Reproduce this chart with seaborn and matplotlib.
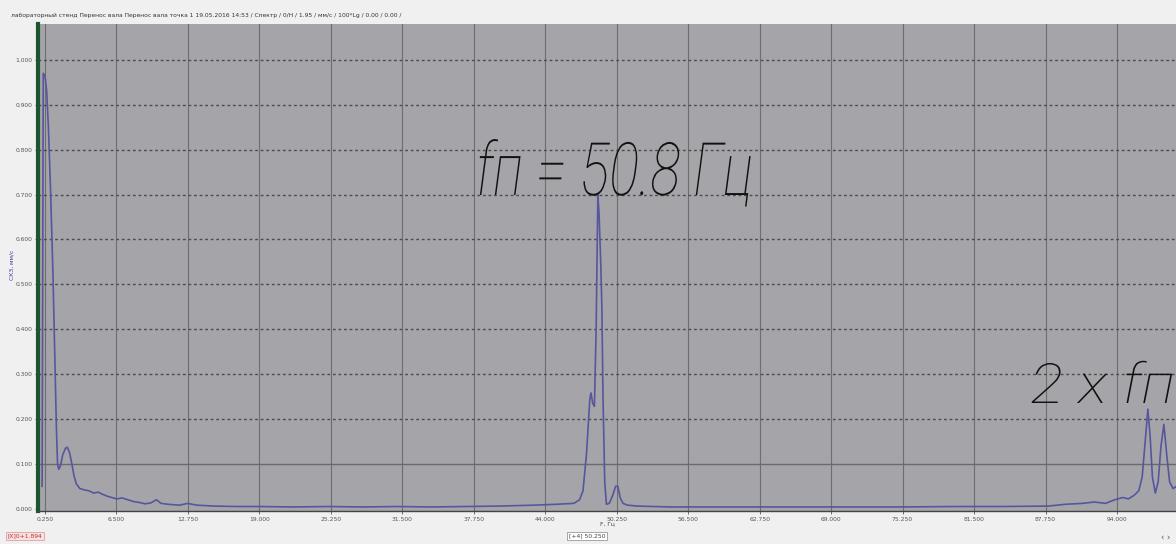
import numpy as np
import pandas as pd
import matplotlib
matplotlib.use("Agg")
import matplotlib.pyplot as plt
import seaborn as sns
from matplotlib.patheffects import AbstractPathEffect
from matplotlib.transforms import Affine2D

# ---------------- data ----------------
freq_hz = [0.0, 0.1, 0.25, 0.4, 0.55, 0.75, 0.95, 1.1, 1.25, 1.35, 1.45, 1.6, 1.8, 2.05,
           2.2, 2.4, 2.6, 2.8, 3.0, 3.3, 3.7, 4.1, 4.5, 4.9, 5.3, 5.7, 6.1, 6.5, 7.0,
           7.5, 8.0, 8.5, 9.0, 9.5, 10.0, 10.4, 11.0, 12.0, 12.75, 13.5, 15.0, 17.0,
           19.0, 22.0, 25.0, 28.0, 31.0, 34.0, 37.0, 40.0, 43.0, 45.0, 46.5, 47.0,
           47.3, 47.6, 47.9, 48.0, 48.15, 48.3, 48.45, 48.6, 48.7, 48.85, 48.95, 49.05,
           49.2, 49.35, 49.6, 49.9, 50.15, 50.35, 50.55, 50.8, 51.2, 52.0, 55.0, 60.0,
           65.0, 70.0, 75.0, 80.0, 84.0, 88.0, 89.5, 91.0, 92.0, 93.0, 93.8, 94.5,
           95.0, 95.5, 95.9, 96.2, 96.5, 96.7, 96.9, 97.1, 97.35, 97.6, 97.85, 98.1,
           98.35, 98.6, 98.9, 99.2]
amplitude = [0.05, 0.97, 0.965, 0.93, 0.85, 0.70, 0.52, 0.35, 0.18, 0.10, 0.088, 0.095,
             0.12, 0.135, 0.137, 0.125, 0.10, 0.072, 0.055, 0.045, 0.042, 0.040, 0.035,
             0.037, 0.032, 0.028, 0.025, 0.022, 0.024, 0.020, 0.016, 0.014, 0.011, 0.013,
             0.020, 0.012, 0.010, 0.008, 0.012, 0.008, 0.006, 0.005, 0.005, 0.004, 0.005,
             0.004, 0.005, 0.004, 0.005, 0.006, 0.008, 0.010, 0.012, 0.020, 0.040, 0.120,
             0.245, 0.258, 0.235, 0.228, 0.400, 0.700, 0.660, 0.550, 0.450, 0.250, 0.060,
             0.010, 0.012, 0.030, 0.050, 0.050, 0.025, 0.012, 0.008, 0.006, 0.004, 0.004,
             0.004, 0.004, 0.004, 0.005, 0.005, 0.006, 0.010, 0.012, 0.015, 0.012, 0.020,
             0.025, 0.022, 0.030, 0.040, 0.070, 0.160, 0.222, 0.160, 0.070, 0.035, 0.060,
             0.140, 0.188, 0.120, 0.060, 0.045, 0.050]

x_ticks = [0.25, 6.5, 12.75, 19.0, 25.25, 31.5, 37.75, 44.0, 50.25, 56.5, 62.75,
           69.0, 75.25, 81.5, 87.75, 94.0]
y_ticks = [0.0, 0.1, 0.2, 0.3, 0.4, 0.5, 0.6, 0.7, 0.8, 0.9, 1.0]

title_text = ("лабораторный стенд Перенос вала Перенос вала точка 1 19.05.2016 14:53 / "
              "Спектр / 0/Н / 1.95 / мм/с / 100*Lg / 0.00 / 0.00 /")
peak_label = "fп = 50.8 Гц"
harm_label = "2 x fп"
y_label = "СКЗ, мм/с"
x_label = "F, Гц"
cursor_label = "[X]0+1.894"
center_label = "[+4] 50.250"
nav_label = "‹ ›"

df = pd.DataFrame({"freq": freq_hz, "amp": amplitude})


class Squeeze(AbstractPathEffect):
    """Scale the glyph outlines horizontally (text stays a Text object)."""
    def __init__(self, sx=0.75):
        super().__init__()
        self.sx = sx

    def draw_path(self, renderer, gc, tpath, affine, rgbFace=None):
        renderer.draw_path(gc, tpath, Affine2D().scale(self.sx, 1.0) + affine, rgbFace)


# ---------------- figure ----------------
W, H = 1176, 544
fig = plt.figure(figsize=(W / 100, H / 100), dpi=100)
fig.patch.set_facecolor("#f0f0f0")
plt.rcParams["font.family"] = ["DejaVu Sans"]

ax = fig.add_axes([38 / W, 1 - 511 / H, 1 - 38 / W, (511 - 24) / H])
ax.set_facecolor("#a5a5a9")

sns.lineplot(data=df, x="freq", y="amp", ax=ax, color="#56569e", linewidth=1.2,
             estimator=None, sort=False)

ax.set_xlim(-0.36, 99.16)
ax.set_ylim(-0.005, 1.08)
ax.set_xticks(x_ticks)
ax.set_yticks(y_ticks)
ax.set_xticklabels([f"{v:.3f}" for v in x_ticks], fontsize=4.3, color="#555555")
ax.set_yticklabels([f"{v:.3f}" for v in y_ticks], fontsize=4.3, color="#555555")
ax.tick_params(axis="both", length=2, width=0.6, color="#555555", pad=2)
ax.set_xlabel("")
ax.set_ylabel("")

# grid
for xv in x_ticks:
    ax.axvline(xv, color="#6e6e6e", lw=0.8, zorder=0.5)
for yv in y_ticks[1:]:
    if abs(yv - 0.1) < 1e-9:
        ax.axhline(yv, color="#6a6a6a", lw=1.0, zorder=0.5)
    else:
        ax.axhline(yv, color="#4c4c4c", lw=1.0, ls=(0, (2, 2)), zorder=0.5)

for s in ["top", "right"]:
    ax.spines[s].set_visible(False)
ax.spines["left"].set_color("#1d5530")
ax.spines["left"].set_linewidth(3)
ax.spines["bottom"].set_color("#444444")
ax.spines["bottom"].set_linewidth(1.0)

# texts
fig.text(11 / W, 1 - 15 / H, title_text, fontsize=4.3, color="#333333", va="center", ha="left")
fig.text(12 / W, 1 - 265 / H, y_label, fontsize=4.3, color="#3a3aa0", rotation=90,
         va="center", ha="center")
fig.text(607 / W, 1 - 524 / H, x_label, fontsize=4.3, color="#444444", va="center", ha="center")
fig.text(8 / W, 1 - 536 / H, cursor_label, fontsize=4.3, color="#c03030", va="center",
         ha="left", bbox=dict(facecolor="#f7e2e2", edgecolor="#e0a0a0", pad=1.2, lw=0.6))
fig.text(569 / W, 1 - 536 / H, center_label, fontsize=4.3, color="#444444", va="center",
         ha="left", bbox=dict(facecolor="#ffffff", edgecolor="#999999", pad=1.2, lw=0.6))
fig.text(1166 / W, 1 - 537 / H, nav_label, fontsize=6, color="#555555", va="center", ha="center")

fig.text(476 / W, 1 - 195 / H, peak_label, fontsize=53, color="#111111", style="italic",
         fontweight="light", family=["Roboto", "DejaVu Sans"], ha="left", va="baseline",
         path_effects=[Squeeze(0.76)])
fig.text(1030 / W, 1 - 403 / H, harm_label, fontsize=40, color="#111111", style="italic",
         fontweight="light", family=["Roboto", "DejaVu Sans"], ha="left", va="baseline",
         path_effects=[Squeeze(1.13)])

fig.savefig("out.png", dpi=100, facecolor=fig.get_facecolor())
